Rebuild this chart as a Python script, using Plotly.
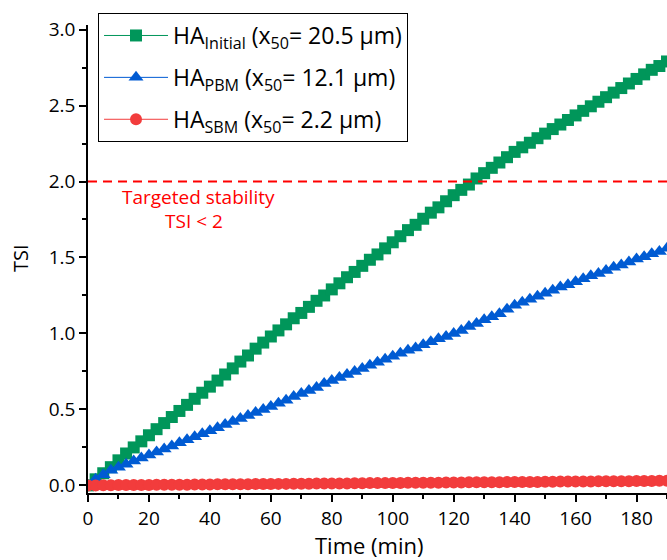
import plotly.graph_objects as go

# Sampling times (min)
time_min = [
    0, 2.5, 5, 7.5, 10, 12.5, 15, 17.5, 20, 22.5, 25, 27.5, 30, 32.5, 35, 37.5,
    40, 42.5, 45, 47.5, 50, 52.5, 55, 57.5, 60, 62.5, 65, 67.5, 70, 72.5, 75, 77.5,
    80, 82.5, 85, 87.5, 90, 92.5, 95, 97.5, 100, 102.5, 105, 107.5, 110, 112.5, 115, 117.5,
    120, 122.5, 125, 127.5, 130, 132.5, 135, 137.5, 140, 142.5, 145, 147.5, 150, 152.5,
    155, 157.5, 160, 162.5, 165, 167.5, 170, 172.5, 175, 177.5, 180, 182.5, 185, 187.5, 190,
]

# TSI, initial HA (x50 = 20.5 um)
tsi_initial = [
    0.00, 0.04, 0.08, 0.12, 0.165, 0.21, 0.25, 0.29, 0.33, 0.37, 0.41, 0.45, 0.49, 0.53, 0.57, 0.61,
    0.65, 0.69, 0.73, 0.77, 0.815, 0.855, 0.90, 0.94, 0.98, 1.02, 1.06, 1.10, 1.135, 1.175, 1.215, 1.25,
    1.29, 1.33, 1.37, 1.405, 1.445, 1.485, 1.52, 1.56, 1.60, 1.64, 1.68, 1.715, 1.755, 1.795, 1.83, 1.87,
    1.91, 1.945, 1.98, 2.02, 2.055, 2.09, 2.125, 2.16, 2.195, 2.225, 2.255, 2.285, 2.315, 2.345,
    2.375, 2.405, 2.435, 2.465, 2.495, 2.525, 2.555, 2.585, 2.615, 2.645, 2.675, 2.705, 2.735, 2.76, 2.79,
]

# TSI, planetary ball milled HA (x50 = 12.1 um)
tsi_pbm = [
    0.00, 0.04, 0.07, 0.10, 0.12, 0.14, 0.16, 0.18, 0.20, 0.22, 0.24, 0.26, 0.28, 0.30, 0.32, 0.34,
    0.36, 0.38, 0.40, 0.42, 0.44, 0.46, 0.48, 0.50, 0.52, 0.54, 0.56, 0.585, 0.605, 0.625, 0.645, 0.67,
    0.69, 0.71, 0.73, 0.75, 0.77, 0.79, 0.81, 0.83, 0.85, 0.87, 0.89, 0.905, 0.925, 0.945, 0.965, 0.98,
    1.00, 1.02, 1.045, 1.065, 1.09, 1.11, 1.13, 1.16, 1.185, 1.205, 1.225, 1.245, 1.265, 1.285,
    1.305, 1.32, 1.34, 1.36, 1.38, 1.395, 1.415, 1.435, 1.45, 1.47, 1.49, 1.505, 1.525, 1.54, 1.56,
]

# TSI, stirred ball milled HA (x50 = 2.2 um)
tsi_sbm = [
    0.000, 0.000, 0.001, 0.001, 0.002, 0.002, 0.002, 0.003, 0.003, 0.004,
    0.004, 0.004, 0.005, 0.005, 0.006, 0.006, 0.006, 0.007, 0.007, 0.008,
    0.008, 0.008, 0.009, 0.009, 0.009, 0.010, 0.010, 0.011, 0.011, 0.011,
    0.012, 0.012, 0.013, 0.013, 0.013, 0.014, 0.014, 0.015, 0.015, 0.015,
    0.016, 0.016, 0.017, 0.017, 0.017, 0.018, 0.018, 0.019, 0.019, 0.019,
    0.020, 0.020, 0.021, 0.021, 0.021, 0.022, 0.022, 0.023, 0.023, 0.023,
    0.024, 0.024, 0.025, 0.025, 0.025, 0.026, 0.026, 0.027, 0.027, 0.027,
    0.028, 0.028, 0.029, 0.029, 0.029, 0.030, 0.030,
]

series_names = [
    "HA<sub>Initial</sub> (x<sub>50</sub>= 20.5 µm)",
    "HA<sub>PBM</sub> (x<sub>50</sub>= 12.1 µm)",
    "HA<sub>SBM</sub> (x<sub>50</sub>= 2.2 µm)",
]
target_tsi = 2.0
x_ticks = [0, 20, 40, 60, 80, 100, 120, 140, 160, 180]
y_ticks = [0.0, 0.5, 1.0, 1.5, 2.0, 2.5, 3.0]

FONT = "Open Sans, Lato, sans-serif"
GREEN = "#00965a"
BLUE = "#005bd3"
RED = "#f23c3c"

fig = go.Figure()
styles = [
    (tsi_initial, GREEN, "square", 12),
    (tsi_pbm, BLUE, "triangle-up", 13),
    (tsi_sbm, RED, "circle", 12),
]
for i, (name, (vals, color, sym, size)) in enumerate(zip(series_names, styles)):
    fig.add_trace(go.Scatter(
        x=time_min, y=vals, name=name, mode="lines+markers",
        legendgroup=f"g{i}",
        line=dict(color=color, width=1),
        marker=dict(symbol=sym, size=size, color=color, line=dict(width=0)),
    ))

# Targeted stability threshold
fig.add_shape(type="line", xref="x", yref="y", x0=0, x1=190, y0=target_tsi, y1=target_tsi,
              line=dict(color="#ff0000", width=2, dash="9px,6px"))
fig.add_annotation(x=36.4, y=1.90, xref="x", yref="y", text="Targeted stability",
                   showarrow=False, font=dict(family=FONT, size=19, color="#ff0000"))
fig.add_annotation(x=34.8, y=1.74, xref="x", yref="y", text="TSI &lt; 2",
                   showarrow=False, font=dict(family=FONT, size=19, color="#ff0000"))

# Axis titles
fig.add_annotation(x=0.487, y=-0.1111, xref="paper", yref="paper", text="Time (min)",
                   xanchor="center", yanchor="middle",
                   showarrow=False, font=dict(family=FONT, size=22, color="black"))
fig.add_annotation(x=-0.1174, y=0.502, xref="paper", yref="paper", text="TSI", textangle=-90,
                   xanchor="center", yanchor="middle",
                   showarrow=False, font=dict(family=FONT, size=20, color="black"))

axis_common = dict(
    showline=True, linecolor="black", linewidth=1.5, mirror=False,
    showgrid=False, zeroline=False,
    ticks="outside", ticklen=7, tickwidth=1.5, tickcolor="black",
    tickfont=dict(family=FONT, size=19, color="black"),
)
fig.update_xaxes(range=[0, 190], tickvals=x_ticks,
                 minor=dict(ticks="outside", ticklen=4, tickwidth=1.5, tickcolor="black", dtick=10),
                 **axis_common)
fig.update_yaxes(range=[-0.05, 3.03], tickvals=y_ticks, tickformat=".1f",
                 minor=dict(ticks="outside", ticklen=4, tickwidth=1.5, tickcolor="black", dtick=0.25,
                            tick0=0),
                 **axis_common)

fig.update_layout(
    width=667, height=560,
    margin=dict(l=88, r=0, t=25, b=67),
    plot_bgcolor="white", paper_bgcolor="white",
    showlegend=True,
    legend=dict(
        x=0.0173, y=1.0256, xanchor="left", yanchor="top",
        bordercolor="black", borderwidth=1, bgcolor="white",
        font=dict(family=FONT, size=23, color="black"),
        itemwidth=64, tracegroupgap=9,
    ),
)

fig.write_html("out.html")
